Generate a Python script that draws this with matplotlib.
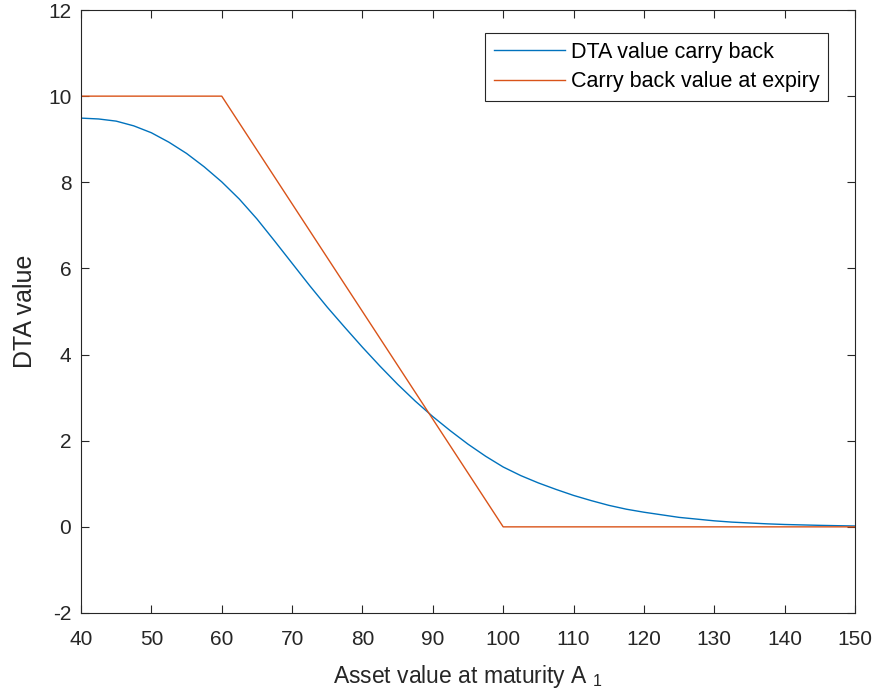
import numpy as np
import matplotlib.pyplot as plt

plt.rcParams['font.family'] = ['Liberation Sans', 'DejaVu Sans']
plt.rcParams['mathtext.fontset'] = 'custom'
plt.rcParams['mathtext.rm'] = 'Liberation Sans'
plt.rcParams['mathtext.it'] = 'Liberation Sans'
plt.rcParams['axes.unicode_minus'] = False

# DTA value (carry back), every 2.5
asset_values = [40, 42.5, 45, 47.5, 50, 52.5, 55, 57.5, 60, 62.5, 65, 67.5,
                70, 72.5, 75, 77.5, 80, 82.5, 85, 87.5, 90, 92.5, 95, 97.5,
                100, 102.5, 105, 107.5, 110, 112.5, 115, 117.5, 120, 122.5,
                125, 127.5, 130, 132.5, 135, 137.5, 140, 142.5, 145, 147.5, 150]
dta_carry_back = [9.49, 9.47, 9.42, 9.31, 9.15, 8.93, 8.67, 8.36, 8.01, 7.61, 7.15, 6.64,
                  6.12, 5.60, 5.10, 4.63, 4.17, 3.73, 3.31, 2.92, 2.56, 2.23, 1.92, 1.64,
                  1.39, 1.19, 1.02, 0.87, 0.73, 0.61, 0.50, 0.41, 0.34, 0.28,
                  0.22, 0.18, 0.14, 0.11, 0.09, 0.07, 0.055, 0.045, 0.035, 0.027, 0.02]

# payoff at expiry
expiry_x = [40, 60, 100, 150]
expiry_y = [10, 10, 0, 0]

blue = (0, 0.447, 0.741)
orange = (0.85, 0.325, 0.098)
axis_col = '#262626'

fig = plt.figure(figsize=(8.78, 7.0), dpi=100)
ax = fig.add_axes([81 / 878, 87 / 700, 774 / 878, 603 / 700])

ax.plot(asset_values, dta_carry_back, color=blue, lw=1.0, label='DTA value carry back')
ax.plot(expiry_x, expiry_y, color=orange, lw=1.0, label='Carry back value at expiry')

ax.set_xlim(40, 150)
ax.set_ylim(-2, 12)
ax.set_xticks(np.arange(40, 151, 10))
ax.set_yticks(np.arange(-2, 13, 2))
ax.tick_params(direction='in', top=True, right=True, length=6, width=0.8,
               colors=axis_col, labelsize=15, labelcolor='#262626')
ax.tick_params(axis='x', pad=12)
ax.tick_params(axis='y', pad=7)
for s in ax.spines.values():
    s.set_color(axis_col)
    s.set_linewidth(0.8)

ax.set_xlabel('Asset value at maturity A $_{1}$', fontsize=16.5, color='#262626', labelpad=10)
ax.set_ylabel('DTA value', fontsize=18, color='#262626', labelpad=8)

leg = ax.legend(loc='upper right', bbox_to_anchor=(0.9655, 0.962), fontsize=15.5,
                handlelength=3.3, frameon=True, fancybox=False, borderpad=0.4,
                labelspacing=0.4, handletextpad=0.3, borderaxespad=0)
leg.get_frame().set_edgecolor(axis_col)
leg.get_frame().set_linewidth(0.8)
leg.get_frame().set_alpha(1)

fig.savefig('out.png', dpi=100)
